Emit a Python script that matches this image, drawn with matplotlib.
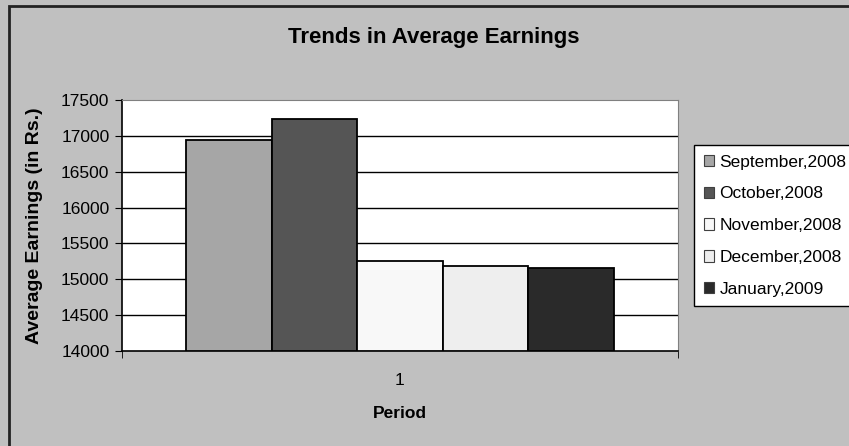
import numpy as np
import matplotlib.pyplot as plt
from matplotlib.patches import Rectangle

plt.rcParams['font.family'] = ['Liberation Sans', 'DejaVu Sans']

# Average earnings per month
periods  = ['September,2008', 'October,2008', 'November,2008', 'December,2008', 'January,2009']
earnings = [16944, 17230, 15253, 15187, 15151]
colors   = ['#a6a6a6', '#555555', '#f8f8f8', '#eeeeee', '#2a2a2a']
y_ticks  = [14000, 14500, 15000, 15500, 16000, 16500, 17000, 17500]

fig = plt.figure(figsize=(8.49, 4.46), dpi=100)
fig.patch.set_facecolor('#c0c0c0')

# chart frame (only top and left edges show)
fig.patches.append(Rectangle((8.5 / 849, -0.1), 1.2, 1.1 - 5.5 / 446, transform=fig.transFigure,
                             fill=False, edgecolor='#222222', linewidth=2, zorder=0))

ax = fig.add_axes([122 / 849, 95 / 446, 556 / 849, 251 / 446])
ax.set_facecolor('white')

n = len(earnings)
width = 0.77 / n
offsets = (np.arange(n) - (n - 1) / 2) * width
for i in range(n):
    ax.bar(offsets[i], earnings[i] - y_ticks[0], width, bottom=y_ticks[0],
           color=colors[i], edgecolor='black', linewidth=1.3, label=periods[i], zorder=3)

ax.set_xlim(-0.5, 0.5)
ax.set_ylim(y_ticks[0], y_ticks[-1])
ax.hlines(y_ticks[1:-1], -0.5, 0.5, colors='black', linewidth=1, zorder=1)

ax.set_yticks(y_ticks)
ax.set_yticklabels([str(t) for t in y_ticks], fontsize=12.5)
ax.set_xticks([0])
ax.set_xticklabels(['1'], fontsize=12.5)
ax.set_xticks([-0.5, 0.5], minor=True)
ax.tick_params(axis='x', which='major', length=0, pad=16)
ax.tick_params(axis='x', which='minor', length=5, color='black')
ax.tick_params(axis='y', length=5, color='black', pad=4)

for side in ['top', 'right']:
    ax.spines[side].set_color('#808080')
for side in ['left', 'bottom']:
    ax.spines[side].set_color('black')
    ax.spines[side].set_linewidth(1.2)

fig.text(434 / 849, 1 - 38 / 446, 'Trends in Average Earnings', fontsize=16,
         fontweight='bold', ha='center', va='center')
ax.set_xlabel('Period', fontsize=12.5, fontweight='bold', labelpad=13)
ax.set_ylabel('Average Earnings (in Rs.)', fontsize=14, fontweight='bold', labelpad=13)

leg = fig.legend(loc='upper left', bbox_to_anchor=(694 / 849, 1 - 145 / 446),
                 fontsize=12.5, frameon=True, fancybox=False, handlelength=0.62,
                 handleheight=0.62, handletextpad=0.3, labelspacing=0.97,
                 borderpad=0.55, borderaxespad=0)
leg.get_frame().set_edgecolor('black')
leg.get_frame().set_linewidth(1)
leg.get_frame().set_facecolor('white')
leg.get_frame().set_alpha(1)
for h in leg.legend_handles:
    h.set_edgecolor('#404040')
    h.set_linewidth(0.8)

fig.savefig('out.png', dpi=100, facecolor=fig.get_facecolor())
